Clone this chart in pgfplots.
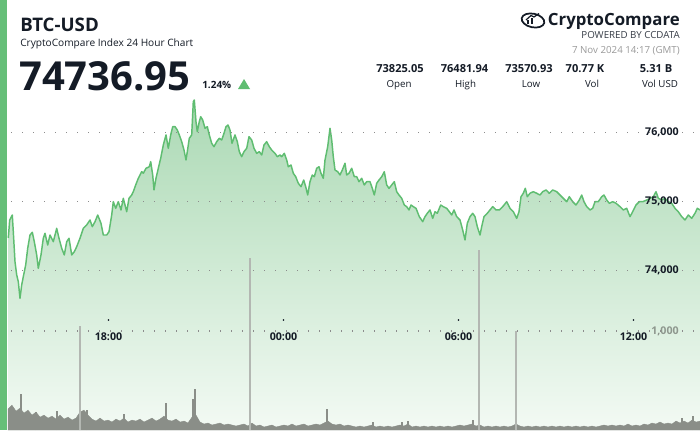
\documentclass[border=0pt]{standalone}
\usepackage{pgfplots}
\pgfplotsset{compat=1.18}
\usepackage{pgfplotstable}
\usepackage{fontspec}
\setmainfont{Open Sans}
\definecolor{cgreen}{HTML}{5FBD71}
\definecolor{barGreen}{HTML}{66BF78}
\definecolor{dark}{HTML}{141B26}
\definecolor{gridgray}{HTML}{8C8C8C}
\definecolor{volgray}{HTML}{8A8E88}
\definecolor{spikegray}{HTML}{B3B7B2}
\definecolor{lgray}{HTML}{9A9A9A}
\definecolor{vlabel}{HTML}{8E978E}
\definecolor{filltop}{HTML}{ABD9B4}
\definecolor{fillbot}{HTML}{F3FAF4}

\pgfplotstableread{
x price
8.3 74474
9.7 74735
12.3 74807
13.3 74565
15 74130
16.7 73938
18.3 73841
20 73600
21.7 73793
23.3 73913
25.7 74083
27.7 74325
30 74517
32.3 74557
34.3 74420
36.7 74228
38.3 74035
41 74228
43.3 74470
45 74542
47.7 74372
50 74517
53.3 74420
56.7 74614
59 74470
61.7 74325
64.3 74228
66.7 74420
69 74470
71.7 74228
74.3 74275
76.7 74348
80 74470
83.3 74614
86.7 74662
90 74735
92.3 74638
95 74710
97.7 74807
101 74687
103.3 74517
106.7 74517
109 74565
111.7 74807
113.3 75000
115.7 74904
118.3 75000
121 74880
123.3 75049
126.7 74855
129 75049
131.7 75097
133.3 75145
135.7 75242
138.3 75339
141.7 75435
143.3 75412
146 75484
149.3 75507
150.7 75580
152.7 75387
154 75170
156 75339
158.3 75484
160.7 75629
163.3 75822
166 75967
168.3 75774
170.7 75967
172.7 76087
175 76087
177.3 76039
179.3 75967
181.7 75870
184 75749
186 75604
187.3 75725
189.3 75919
191.7 75967
193.3 76449
194.3 76474
196 76159
197.3 76015
199.3 76159
200.7 76232
202.7 76184
205 76064
207.3 76087
209.3 75967
211.7 75846
214 75797
216.7 75870
219.3 75919
221.7 75894
224 75991
226 76087
228 76112
230 76039
232 75846
235 75967
237.3 75870
239.3 75725
241.7 75652
244 75725
246.7 75774
249 75942
251.7 75894
254 75774
256.7 75701
259.3 75725
261.7 75677
264 75822
266.7 75870
269.3 75797
271.7 75749
275 75701
277.3 75652
280 75677
281.7 75652
284.3 75701
286.7 75604
288.3 75507
291 75532
293.3 75412
295.7 75362
298.3 75267
301 75217
303.7 75314
305.7 75217
307.7 75097
310 75290
312.3 75387
314.3 75362
316.7 75484
319 75507
321 75412
323.3 75339
325 75604
327.7 75797
330 76064
331.7 75894
333.3 75652
335 75459
337.7 75435
340 75387
342.3 75459
345 75557
346.7 75387
349 75412
351.7 75484
354.3 75362
356.7 75362
359 75290
361.7 75339
364.3 75242
366.7 75290
370 75290
372.3 75194
374.3 75097
376.7 75267
379 75314
381.7 75362
384.3 75435
386.7 75242
389 75194
391.7 75242
394.3 75290
396.7 75145
399 75097
401.7 75049
404.3 74952
406.7 74928
409 74880
411 74952
413.3 74928
416 74904
419.3 74783
422.7 74710
425 74783
427.3 74832
430 74880
432.7 74759
435 74855
437.3 74832
440.7 74952
443.3 74928
446.7 74904
449.3 74855
451.7 74807
454 74880
456.7 74783
460 74735
462.7 74590
465 74445
467.3 74687
470 74783
472.7 74832
475 74783
477.3 74638
480 74517
481.7 74638
484 74783
487.3 74832
490 74880
492.7 74928
496 74880
499.3 74880
502.7 74928
506.7 75000
510 74904
513.3 74855
516.7 74759
519 74855
521 75072
523.3 75122
525.3 75194
527.3 75072
530 75122
533.3 75145
536.7 75122
540 75097
542.7 75145
546 75170
549.3 75122
552.7 75170
556.7 75145
560 75097
563.3 75049
566.7 75000
569.3 75072
572.7 75000
576 74952
579.3 75024
581.7 75097
584 75000
586.7 74928
590 74880
592.7 74904
595 75000
598.3 75000
601.7 75072
604 75097
606.7 75024
609.3 74977
612.7 75000
616 74977
620 74928
623.3 74880
626.7 74904
630 74783
632.7 74855
636 74952
639.3 75000
642.7 75000
646.7 75024
650 75049
653.3 75072
656 75145
658.3 75049
661.7 75024
665 75049
668.3 75000
671.7 74977
675 74904
678.3 74855
681.7 74783
685 74735
688.3 74807
691.7 74759
695 74832
697.3 74904
700 74880
}\pricedata

\pgfplotstableread{
x vol
8 210
12 250
16 190
20 220
24 170
28 200
32 150
36 180
40 130
44 150
48 120
52 140
56 110
60 150
64 110
68 130
72 100
76 120
80 180
84 200
88 150
92 110
96 90
100 120
104 90
108 100
112 80
116 110
120 90
124 120
128 80
132 100
136 90
140 110
144 80
148 100
152 120
156 90
160 110
164 140
168 100
172 90
176 110
180 80
184 90
188 70
192 130
196 150
200 80
204 60
208 70
212 50
216 60
220 70
224 50
228 60
232 50
236 40
240 50
244 60
248 40
252 70
256 40
260 50
264 30
268 40
272 50
276 30
280 40
284 50
288 40
292 60
296 40
300 50
304 60
308 40
312 50
316 60
320 50
324 70
328 90
332 60
336 50
340 60
344 40
348 50
352 40
356 30
360 40
364 30
368 40
372 50
376 30
380 40
384 30
388 40
392 30
396 40
400 50
404 40
408 60
412 30
416 40
420 30
424 40
428 30
432 40
436 30
440 40
444 30
448 40
452 30
456 40
460 50
464 40
468 50
472 60
476 40
480 50
484 30
488 40
492 30
496 40
500 30
504 40
508 30
512 40
516 60
520 40
524 30
528 40
532 30
536 40
540 30
544 40
548 30
552 40
556 30
560 40
564 30
568 40
572 30
576 40
580 30
584 40
588 30
592 40
596 30
600 40
604 50
608 40
612 50
616 40
620 50
624 40
628 60
632 40
636 50
640 40
644 60
648 50
652 70
656 60
660 80
664 60
668 70
672 60
676 90
680 70
684 90
688 70
692 100
696 80
700 90
}\voldata

\begin{document}
\begin{tikzpicture}
\useasboundingbox (0,0) rectangle (525pt,322.5pt);
\fill[white] (0,0) rectangle (525pt,322.5pt);
% ---------- price axis ----------
\begin{axis}[
  at={(0,0)}, anchor=south west,
  scale only axis, width=525pt, height=322.5pt,
  xmin=0, xmax=700, ymin=71691, ymax=77923,
  axis line style={draw=none},
  major tick length=0pt,
  scaled x ticks=false, scaled y ticks=false,
  xtick={108.5,283.5,458.5,633.5},
  xticklabels={18:00,00:00,06:00,12:00},
  xticklabel style={anchor=center, yshift=69.75pt, inner sep=0pt,
    font=\bfseries\fontsize{8}{9}\selectfont, text=dark},
  ytick={74000,75000,76000},
  yticklabel pos=right,
  yticklabel style={anchor=east, xshift=-15.75pt, inner sep=0pt,
    font=\bfseries\fontsize{8}{9}\selectfont, text=dark,
    /pgf/number format/1000 sep={,}, /pgf/number format/assume math mode=true},
  ymajorgrids,
  major grid style={gridgray, line width=0.9pt, dash pattern=on 0.9pt off 7.35pt},
  axis on top,
]
\addplot[draw=none, top color=filltop, bottom color=fillbot]
  table[x=x, y=price]{\pricedata} -- (axis cs:700,71691) -- (axis cs:8,71691) -- cycle;
\addplot[cgreen, line width=1.1pt, line join=round] table[x=x, y=price]{\pricedata};
\end{axis}
% ---------- volume axis ----------
\begin{axis}[
  at={(0,0)}, anchor=south west,
  scale only axis, width=525pt, height=322.5pt,
  xmin=0, xmax=700, ymin=0, ymax=4343,
  axis line style={draw=none},
  major tick length=0pt,
  scaled x ticks=false, scaled y ticks=false,
  xtick=\empty,
  ytick={1000},
  yticklabel pos=right,
  yticklabel style={anchor=east, xshift=-15.75pt, inner sep=0pt,
    font=\bfseries\fontsize{8}{9}\selectfont, text=vlabel,
    /pgf/number format/1000 sep={,}, /pgf/number format/assume math mode=true},
  ymajorgrids,
  major grid style={gridgray, line width=0.9pt, dash pattern=on 0.9pt off 7.35pt},
]
\addplot[fill=volgray, draw=volgray, line width=0.3pt] table[x=x, y=vol]{\voldata} \closedcycle;
\addplot[ycomb, volgray, line width=0.8pt] coordinates {
 (21,360) (36,180) (57,190) (87,200) (124,160) (166,270) (193,310) (195,410)
 (327,210) (373,80) (402,80) (408,90) (473,100) (516,170) (682,120) (693,140)};
\addplot[ycomb, spikegray, line width=1.1pt] coordinates {
 (80,1050) (250,1737) (479,1818) (516,1000)};
\addplot[only marks, mark=*, mark size=0.45pt, dark] coordinates {
 (108.5,1111) (283.5,1111) (458.5,1111) (633.5,1111)};
\end{axis}
% ---------- frame decorations and header (pixel coordinates, y down) ----------
\begin{scope}[x=0.75pt, y=-0.75pt, shift={(0pt,322.5pt)}]
\fill[barGreen] (0,0) rectangle (7,430);
\node[anchor=base west, inner sep=0, text=dark, font=\bfseries\fontsize{14}{16}\selectfont] at (20,31) {BTC-USD};
\node[anchor=base west, inner sep=0, text=dark, font=\fontsize{7.6}{9}\selectfont] at (20,46.5) {CryptoCompare Index 24 Hour Chart};
\node[anchor=base west, inner sep=0, text=dark, font=\bfseries\fontsize{30}{34}\selectfont] at (19,90) {74736.95};
\node[anchor=base west, inner sep=0, text=dark, font=\bfseries\fontsize{7.5}{9}\selectfont] at (202,88) {1.24\%};
\fill[cgreen] (238,89) -- (250,89) -- (244,79) -- cycle;
% logo
\draw[dark, line width=1.3pt, rotate around={-12:(533,20.5)}] (533,20.5) ellipse [x radius=11.5, y radius=6.8];
\fill[dark] (527,24) rectangle (529,20);
\fill[dark] (531,24) rectangle (533,18);
\draw[dark, line width=0.9pt] (526,20) -- (531,15.5) -- (534,17) -- (539,13.5);
\node[anchor=base east, inner sep=0, text=dark, font=\bfseries\fontsize{12.6}{15}\selectfont] at (680,25) {CryptoCompare};
\node[anchor=base east, inner sep=0, text=dark!85, font=\fontsize{7.3}{9}\selectfont] at (680,38.3) {POWERED BY CCDATA};
\node[anchor=base east, inner sep=0, text=lgray, font=\fontsize{7.3}{9}\selectfont] at (680,53.5) {7 Nov 2024 14:17 (GMT)};
% stats
\begin{scope}[every node/.style={anchor=base, inner sep=0, text=dark}]
\node[font=\bfseries\fontsize{8.3}{10}\selectfont] at (400,72) {73825.05};
\node[font=\bfseries\fontsize{8.3}{10}\selectfont] at (464.5,72) {76481.94};
\node[font=\bfseries\fontsize{8.3}{10}\selectfont] at (529,72) {73570.93};
\node[font=\bfseries\fontsize{8.3}{10}\selectfont] at (585,72) {70.77 K};
\node[font=\bfseries\fontsize{8.3}{10}\selectfont] at (656,72) {5.31 B};
\node[font=\fontsize{7.3}{9}\selectfont] at (399,87) {Open};
\node[font=\fontsize{7.3}{9}\selectfont] at (465.5,87) {High};
\node[font=\fontsize{7.3}{9}\selectfont] at (531,87) {Low};
\node[font=\fontsize{7.3}{9}\selectfont] at (592,87) {Vol};
\node[font=\fontsize{7.3}{9}\selectfont] at (660,87) {Vol USD};
\end{scope}
\end{scope}
\end{tikzpicture}
\end{document}
